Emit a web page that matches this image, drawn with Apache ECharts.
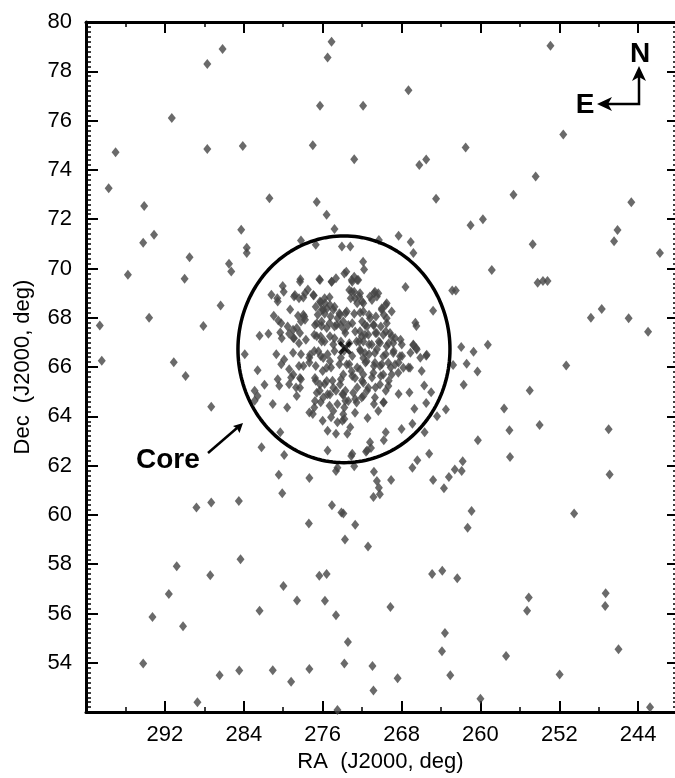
<!DOCTYPE html>
<html><head><meta charset="utf-8">
<script src="https://cdn.jsdelivr.net/npm/echarts@6/dist/echarts.min.js"></script>
<style>html,body{margin:0;padding:0;background:#fff}#c{width:675px;height:778px}</style>
</head><body><div id="c"></div>
<script>
// Axis ticks (RA runs right-to-left)
const raMajorTicks = [244, 252, 260, 268, 276, 284, 292];
const raMinorTicks = [248, 256, 264, 272, 280, 288, 296];
const raRange = [240.27, 300];
const decRange = [52, 80];

// Stars outside / around the core: [RA, Dec]
const outerStars = [
[275.1,79.2],[275.5,78.56],[276.27,76.6],[277.0,75.0],[286.15,78.9],[287.7,78.3],[291.3,76.1],[297.0,74.72],[297.7,73.25],[287.7,74.85],[284.1,74.97],[281.4,72.85],[276.6,72.7],[275.6,72.18],[274.8,71.6],[294.1,72.53],[294.2,71.04],[293.1,71.37],[284.26,71.57],[283.7,70.84],[283.7,70.63],[289.5,70.45],[278.2,71.13],[276.7,70.96],
[252.9,79.04],[267.3,77.23],[271.9,76.6],[251.6,75.44],[261.5,74.91],[272.8,74.43],[266.2,74.2],[265.5,74.42],[254.4,73.73],[256.65,72.99],[264.5,72.83],[244.7,72.69],[259.75,72.0],[261.0,71.75],[246.1,71.56],[246.45,71.1],[254.7,70.98],[241.8,70.63],[268.3,71.33],[267.07,71.07],[266.8,70.63],[270.3,71.15],[274.05,70.89],[273.2,70.89],
[295.75,69.75],[290.0,69.58],[285.5,70.19],[285.27,69.88],[286.35,68.5],[293.6,68.0],[288.1,67.67],[298.6,67.69],[298.4,66.26],[291.1,66.19],[289.9,65.64],[287.3,64.39],[282.2,62.75],[280.3,63.35],[279.9,62.43],[280.45,61.63],[277.35,61.5],[280.1,60.88],[284.5,60.57],[287.3,60.5],[288.8,60.3],[283.9,66.52],
[275.5,62.61],[274.65,61.78],
[258.85,69.94],[254.2,69.42],[253.66,69.49],[253.2,69.49],[262.86,69.11],[262.5,69.11],[248.8,68.0],[247.7,68.36],[244.97,67.98],[243.0,67.43],[259.25,66.9],[261.95,66.81],[260.7,66.62],[262.77,66.08],[261.4,66.13],[260.3,65.82],[251.3,66.06],[261.7,65.28],[255.0,65.05],[257.6,64.32],[263.5,64.28],[264.4,64.0],[254.0,63.65],[257.06,63.44],[247.0,63.48],[260.26,63.03],[257.0,62.35],[246.9,61.64],[261.8,62.18],[261.9,61.78],[262.6,61.84],[263.2,61.54],[263.7,61.08],[264.8,61.42],[265.2,62.48],[266.4,62.22],[266.9,61.91],[269.06,61.42],[270.8,61.75],[270.5,61.38],[270.3,61.1],[270.85,60.73],[270.2,60.84],[272.8,61.98],[274.5,61.91],
[275.06,60.39],[277.4,59.65],[290.8,57.92],[284.33,58.2],[287.4,57.55],[291.6,56.79],[293.26,55.86],[290.16,55.48],[279.98,57.12],[278.6,56.53],[282.4,56.11],[276.34,57.53],[275.6,57.6],[275.77,56.52],[274.65,55.93],[294.2,53.97],[286.45,53.5],[284.46,53.69],[281.06,53.7],[279.2,53.23],[277.35,53.75],[288.7,52.4],[274.5,52.09],
[273.9,60.06],[274.1,60.1],[272.7,59.6],[273.74,59.0],[271.4,58.72],[260.9,60.16],[261.3,59.48],[250.5,60.06],[264.9,57.6],[263.87,57.74],[262.35,57.43],[269.13,56.26],[255.1,56.65],[255.27,56.11],[247.3,56.82],[247.35,56.3],[273.44,54.84],[273.8,53.97],[270.95,53.87],[270.85,52.88],[268.4,53.37],[263.6,55.21],[263.9,54.47],[263.06,53.5],[257.4,54.28],[260.0,52.54],[251.97,53.53],[246.0,54.55],[242.8,52.2]
];

// Stars inside the core circle: [RA, Dec]
const coreStars = [
[267.6,69.25],[264.8,68.28],[266.6,67.8],[266.5,67.67],[266.8,66.88],[266.5,66.76],[265.5,66.46],[265.96,65.84],[265.7,65.25],[265.0,64.98],[267.2,64.97],[268.3,64.91],[265.5,64.54],[266.7,64.31],[268.0,63.49],[266.9,63.7],[265.66,63.35],[269.6,63.35],[269.8,63.03],[271.45,63.93],[271.1,62.72],[271.6,62.56],[273.1,62.39],
[278.26,69.56],[276.34,69.56],[275.1,69.46],[274.65,69.6],[273.8,69.8],[280.05,69.29],[279.95,69.06],[277.5,69.15],[281.2,68.93],[280.6,68.79],[278.9,68.86],[278.4,68.79],[277.96,68.82],[276.9,68.9],[275.8,68.79],[275.3,68.83],[276.2,68.62],[279.3,68.34],[280.56,68.66],[276.7,68.45],[276.1,68.32],[275.56,68.38],[274.8,68.45],[274.3,68.18],[276.5,68.12],[275.8,68.16],[275.2,68.05],[274.5,67.98],[280.96,68.08],[280.5,67.89],[280.2,67.78],[278.5,68.08],[278.2,67.85],[277.86,68.05],[276.6,67.78],[276.1,67.67],[275.3,67.78],[274.8,67.65],[274.2,67.71],[273.8,67.51],[279.55,67.65],[279.0,67.51],[279.4,67.35],[282.4,67.27],[281.5,67.35],[280.3,67.4],[280.15,67.17],[278.9,67.17],[278.4,66.97],[277.7,67.11],[276.85,67.31],[276.2,67.24],[275.8,67.04],[274.8,67.17],[274.15,67.04],
[271.9,70.27],[271.8,69.96],[273.6,69.87],[272.8,69.66],[272.5,69.53],[273.0,69.46],[273.3,69.13],[272.8,69.06],[273.15,68.79],[272.3,68.86],[272.0,68.66],[272.5,68.59],[270.8,68.99],[270.5,68.86],[271.0,68.72],[269.6,68.52],[270.0,68.39],[273.7,68.18],[272.8,68.16],[272.2,68.21],[271.3,68.12],[270.6,68.05],[269.8,68.12],[273.0,67.78],[272.0,67.85],[271.5,67.65],[270.8,67.71],[270.1,67.65],[269.5,67.78],[273.7,67.38],[272.7,67.44],[271.7,67.31],[270.65,67.38],[269.6,67.44],[269.0,67.24],[268.1,67.11],[273.3,66.97],[272.3,67.04],[271.3,66.91],[270.3,67.04],[269.3,66.97],
[280.7,66.52],[279.9,66.31],[279.0,66.58],[278.2,66.52],[277.35,66.38],[276.85,66.65],[276.2,66.45],[275.5,66.52],[274.8,66.65],[274.15,66.38],[280.2,66.11],[279.4,65.91],[278.4,66.04],[277.35,66.18],[282.6,65.87],[276.7,66.04],[276.0,65.84],[275.15,65.98],[274.3,66.11],[279.2,65.58],[278.2,65.5],[281.9,65.28],[280.56,65.51],[280.4,65.24],[276.7,65.44],[275.8,65.31],[275.0,65.44],[274.15,65.51],[282.9,65.04],[282.6,64.83],[282.9,64.63],[279.4,65.3],[278.7,65.17],[276.3,65.04],[275.5,64.9],[274.65,65.04],[274.0,64.9],[281.06,64.5],[279.6,64.36],[276.85,64.36],[276.2,64.57],[275.3,64.43],[274.5,64.5],[273.8,64.36],[277.35,64.16],[277.0,64.09],[276.0,63.82],[275.15,63.96],[274.5,63.76],[273.8,63.89],[275.5,63.42],[274.65,63.29],
[273.84,66.65],[273.0,66.45],[272.16,66.65],[271.3,66.52],[270.5,66.72],[269.6,66.52],[268.8,66.65],[267.95,66.45],[267.1,66.58],[266.1,66.38],[273.3,66.11],[272.5,65.98],[271.66,66.18],[270.8,66.04],[270.0,66.11],[269.1,65.98],[268.3,66.18],[267.3,65.98],[273.0,65.64],[272.0,65.44],[271.0,65.58],[270.1,65.64],[269.3,65.44],[273.7,65.04],[272.5,65.17],[271.5,65.04],[270.65,65.17],[269.6,65.04],[273.7,64.63],[272.7,64.7],[270.8,64.5],[269.8,64.57],[274.0,63.82],[273.2,63.56],[273.5,63.29],[271.2,62.95],[271.5,62.61],[273.0,62.48]
];

// Densest stars around the cluster centre: [RA, Dec]
const centerStars = [
[278.30,69.46],[276.27,69.53],[275.08,69.46],[273.06,69.53],[272.39,69.53],[278.81,68.92],[277.79,68.99],[276.95,68.92],[276.27,68.66],[275.76,68.59],[275.26,68.52],[275.94,68.32],[274.92,68.32],[273.06,69.06],[272.21,68.99],[272.72,68.79],[274.24,68.12],[273.56,68.25],[273.91,67.85],[274.58,67.71],[273.40,67.71],[277.96,68.12],[277.79,67.92],[276.78,67.71],[276.10,67.85],[275.59,67.58],[278.63,67.58],[278.30,67.38],[278.98,67.18],[276.60,67.25],[276.10,67.04],[275.26,67.25],[274.92,66.91],[272.56,67.04],[272.04,67.25],[272.21,66.71],[271.88,66.37],[277.28,66.50],[276.44,66.64],[275.94,66.37],[275.26,66.24],[275.59,65.97],[277.96,66.04],[278.98,65.70],[278.30,65.56],[273.56,66.10],[273.06,65.83],[273.91,65.70],[272.72,65.56],[272.21,65.90],[276.78,65.56],[276.27,65.29],[275.59,65.43],[274.92,65.16],[274.24,65.29],[276.60,64.96],[275.94,64.76],[275.26,64.89],[276.78,64.62],[273.91,64.89],[272.90,64.96],[273.40,64.62],[272.56,64.56],[272.04,64.76],[278.30,65.16],[278.63,64.83],[274.92,64.22],[273.91,64.08],[272.72,64.15],
[270.70,69.06],[270.36,68.99],[271.20,68.86],[271.88,68.59],[269.51,68.59],[270.01,68.32],[269.00,68.25],[269.51,67.98],[271.88,68.25],[271.20,67.98],[271.71,67.71],[270.86,67.71],[272.21,67.45],[271.37,67.31],[270.52,67.38],[269.85,67.31],[269.17,67.38],[268.66,67.18],[271.88,67.04],[271.03,66.91],[270.19,66.98],[269.51,66.84],[268.84,66.98],[267.98,66.91],[266.81,66.91],[266.46,66.71],[265.45,66.50],[271.71,66.57],[270.70,66.57],[269.85,66.44],[268.84,66.57],[268.16,66.44],[271.54,66.24],[270.70,66.17],[270.19,66.04],[269.34,66.17],[268.66,66.10],[267.82,65.97],[267.14,65.97],[271.88,65.70],[270.86,65.77],[269.85,65.70],[269.00,65.70],[268.33,65.77],[271.88,65.36],[271.37,65.16],[270.19,65.29],[269.34,65.23],[271.88,64.83],[270.70,64.76],[269.85,64.56],[270.36,64.22]
];

// Cluster centre and core circle (RA, Dec, radii in degrees of each axis)
const clusterCenter = [[273.74, 66.77]];
const coreCircle = { ra: 273.84, dec: 66.72, rRa: 10.75, rDec: 4.6 };

const circlePts = [];
for (let i = 0; i <= 180; i++) {
  const t = i / 180 * 2 * Math.PI;
  circlePts.push([coreCircle.ra + coreCircle.rRa * Math.cos(t), coreCircle.dec + coreCircle.rDec * Math.sin(t)]);
}

const FONT = '"Liberation Sans", Arial, Helvetica, sans-serif';
const labelFont = { fontFamily: FONT, fontSize: 22, color: '#000' };
const nameFont = { fontFamily: FONT, fontSize: 22, color: '#000' };
const boldFont = 'bold 28px "Liberation Sans", Arial, sans-serif';

function xAx(pos, major) {
  return {
    type: 'value', position: pos, min: raRange[0], max: raRange[1], inverse: true,
    axisLine: { show: major, onZero: false, lineStyle: { color: '#000', width: 3 } },
    axisTick: { show: true, inside: true, length: major ? 11 : 5, customValues: major ? raMajorTicks : raMinorTicks,
      lineStyle: { color: '#000', width: major ? 2 : 1.5 } },
    axisLabel: { show: major && pos === 'bottom', customValues: raMajorTicks, margin: 12, ...labelFont },
    splitLine: { show: false },
    name: (major && pos === 'bottom') ? 'RA  (J2000, deg)' : '',
    nameLocation: 'middle', nameGap: 36,
    nameTextStyle: nameFont
  };
}

const chart = echarts.init(document.getElementById('c'), null, { renderer: 'canvas' });
chart.setOption({
  animation: false,
  backgroundColor: '#fff',
  grid: { left: 86, right: 0, top: 22, bottom: 62 },
  xAxis: [xAx('bottom', true), xAx('bottom', false), xAx('top', true), xAx('top', false)],
  yAxis: [
    {
      type: 'value', position: 'left', min: decRange[0], max: decRange[1], interval: 2,
      axisLine: { show: true, onZero: false, lineStyle: { color: '#000', width: 3 } },
      axisTick: { show: true, inside: true, length: 12, lineStyle: { color: '#000', width: 2 } },
      minorTick: { show: true, splitNumber: 10, length: 5, lineStyle: { color: '#000', width: 1.5 } },
      axisLabel: { margin: 14, formatter: v => (v === 52 ? '' : String(v)), ...labelFont },
      splitLine: { show: false },
      name: 'Dec  (J2000, deg)', nameLocation: 'middle', nameRotate: 90, nameGap: 52,
      nameTextStyle: nameFont
    },
    {
      type: 'value', position: 'right', min: decRange[0], max: decRange[1], interval: 2,
      axisLine: { show: false },
      axisTick: { show: true, inside: true, length: 8, lineStyle: { color: '#000', width: 2 } },
      minorTick: { show: true, splitNumber: 10, length: 2, lineStyle: { color: '#000', width: 1.5 } },
      axisLabel: { show: false },
      splitLine: { show: false }
    }
  ],
  series: [
    {
      type: 'scatter', xAxisIndex: 0, yAxisIndex: 0,
      data: outerStars.concat(coreStars, centerStars),
      symbol: 'diamond', symbolSize: [8, 10],
      itemStyle: { color: '#454545' }, silent: true, z: 2
    },
    {
      type: 'line', xAxisIndex: 0, yAxisIndex: 0, data: circlePts,
      symbol: 'none', smooth: false, silent: true, z: 3,
      lineStyle: { color: '#000', width: 3.5 }
    },
    {
      type: 'scatter', xAxisIndex: 0, yAxisIndex: 0, data: clusterCenter,
      symbol: 'path://M2,0 L5,3 L8,0 L10,2 L7,5 L10,8 L8,10 L5,7 L2,10 L0,8 L3,5 L0,2 Z',
      symbolSize: 14, itemStyle: { color: '#000' }, silent: true, z: 4
    }
  ],
  graphic: [
    { type: 'text', x: 136, y: 460, style: { text: 'Core', font: boldFont, fill: '#000', align: 'left', verticalAlign: 'middle' } },
    { type: 'line', shape: { x1: 208, y1: 453, x2: 237, y2: 428 }, style: { stroke: '#000', lineWidth: 2.5 } },
    { type: 'polygon', shape: { points: [[243, 423], [239.5, 433], [237, 428.5], [233, 426]] }, style: { fill: '#000' } },
    { type: 'text', x: 640, y: 54, style: { text: 'N', font: boldFont, fill: '#000', align: 'center', verticalAlign: 'middle' } },
    { type: 'text', x: 585, y: 105, style: { text: 'E', font: boldFont, fill: '#000', align: 'center', verticalAlign: 'middle' } },
    { type: 'polyline', shape: { points: [[639, 74], [639, 104], [604, 104]] }, style: { stroke: '#000', lineWidth: 2.5, fill: null } },
    { type: 'polygon', shape: { points: [[639, 66], [646, 81], [639, 77], [632, 81]] }, style: { fill: '#000' } },
    { type: 'polygon', shape: { points: [[597, 104], [612, 97], [608, 104], [612, 111]] }, style: { fill: '#000' } }
  ]
});
</script></body></html>
